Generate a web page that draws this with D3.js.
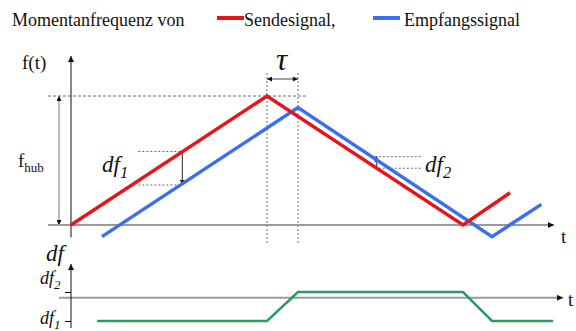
<!DOCTYPE html>
<html>
<head>
<meta charset="utf-8">
<script src="https://cdn.jsdelivr.net/npm/d3@7"></script>
<style>
  body { margin: 0; background: #fff; }
</style>
</head>
<body>
<div class="chart"></div>
<script>
// time in units of half a sweep, frequency in units of f_hub
var sendT = [0, 1, 2, 2.24]
var sendF = [0, 1, 0, 0.25]
var recvT = [0.158, 1.158, 2.148, 2.4]
var recvF = [-0.09, 0.91, -0.09, 0.16]

var diffT = [0.133, 1.0, 1.158, 2.0, 2.148, 2.46]
var diffF = [-1, -1, 0.25, 0.25, -1, -1]

var tau = [1, 1.158]
var df1Marker = { t: 0.568, f: [0.57, 0.31] }
var df2Marker = { t: 1.56, f: [0.53, 0.44] }

var legendNames = ["Sendesignal,", "Empfangssignal"]
var legendColors = ["#e8141c", "#3a6ff0"]

var width = 576, height = 331;
var serif = "Liberation Serif";

var x = d3.scaleLinear().domain([0, 1]).range([71, 267]);
var y = d3.scaleLinear().domain([0, 1]).range([225, 96]);
var y2 = d3.scaleLinear().domain([-1, 0.25]).range([321, 292]);

var svg = d3.select(".chart").append("svg")
    .attr("width", width)
    .attr("height", height);

function label(lx, ly, size, str) {
  return svg.append("text")
      .attr("x", lx).attr("y", ly)
      .attr("font-family", serif)
      .attr("font-size", size)
      .attr("fill", "#111")
      .text(str);
}

var defs = svg.append("defs");
function arrowMarker(id, w, h) {
  defs.append("marker")
      .attr("id", id)
      .attr("viewBox", "0 0 10 10")
      .attr("refX", 10).attr("refY", 5)
      .attr("markerUnits", "userSpaceOnUse")
      .attr("markerWidth", w).attr("markerHeight", h)
      .attr("orient", "auto-start-reverse")
    .append("path")
      .attr("d", "M0,0L10,5L0,10z")
      .attr("fill", "#111");
}
arrowMarker("arr", 7, 6);
arrowMarker("arrS", 6, 5);

// legend
label(12, 26, 18, "Momentanfrequenz von");
var legX = [217, 373];
legendNames.forEach(function(name, i) {
  svg.append("line")
      .attr("x1", legX[i]).attr("x2", legX[i] + 27)
      .attr("y1", 18).attr("y2", 18)
      .attr("stroke", legendColors[i]).attr("stroke-width", 4);
  label(legX[i] + (i ? 31 : 27), 26, 18, name);
});

// ----- upper chart -----
svg.append("line")
    .attr("x1", 48).attr("x2", x(1.2))
    .attr("y1", y(1)).attr("y2", y(1))
    .attr("stroke", "#444").attr("stroke-width", 0.8).attr("stroke-dasharray", "3,2");
tau.forEach(function(t) {
  svg.append("line")
      .attr("x1", x(t)).attr("x2", x(t))
      .attr("y1", 73).attr("y2", 243)
      .attr("stroke", "#444").attr("stroke-width", 0.8).attr("stroke-dasharray", "2,2");
});
svg.append("line")
    .attr("x1", x(tau[0])).attr("x2", x(tau[1]))
    .attr("y1", 79).attr("y2", 79)
    .attr("stroke", "#111").attr("stroke-width", 0.8)
    .attr("marker-start", "url(#arrS)").attr("marker-end", "url(#arrS)");
label((x(tau[0]) + x(tau[1])) / 2 - 1, 70, 31, "τ")
    .attr("text-anchor", "middle")
    .attr("font-style", "italic");

// f_hub arrow
svg.append("line")
    .attr("x1", 59).attr("x2", 59)
    .attr("y1", y(1)).attr("y2", y(0))
    .attr("stroke", "#555").attr("stroke-width", 0.8)
    .attr("marker-start", "url(#arrS)").attr("marker-end", "url(#arrS)");
var fhub = label(18, 167, 19, null);
fhub.append("tspan").text("f");
fhub.append("tspan").attr("dy", 5).attr("font-size", 13).text("hub");

// df markers
[df1Marker, df2Marker].forEach(function(m, i) {
  var x0 = i ? x(m.t) - 2 : x(m.t) - 44;
  var x1 = i ? x(m.t) + 44 : x(m.t);
  m.f.forEach(function(f) {
    svg.append("line")
        .attr("x1", x0).attr("x2", x1)
        .attr("y1", y(f)).attr("y2", y(f))
        .attr("stroke", "#444").attr("stroke-width", 0.8).attr("stroke-dasharray", "2,2");
  });
  svg.append("line")
      .attr("x1", x(m.t)).attr("x2", x(m.t))
      .attr("y1", y(i ? m.f[1] : m.f[0])).attr("y2", y(i ? m.f[0] : m.f[1]))
      .attr("stroke", "#111").attr("stroke-width", 0.9)
      .attr("marker-end", "url(#arrS)");
});
function dfLabel(lx, ly, size, sub) {
  var t = label(lx, ly, size, null).attr("font-style", "italic");
  t.append("tspan").text("df");
  t.append("tspan").attr("dy", size * 0.25).attr("font-size", size * 0.72).text(sub);
}
dfLabel(102, 172, 23, "1");
dfLabel(425, 172, 23, "2");

// axes upper
svg.append("line")
    .attr("x1", 48).attr("x2", 554)
    .attr("y1", y(0)).attr("y2", y(0))
    .attr("stroke", "#9a9a9a").attr("stroke-width", 2)
    .attr("marker-end", "url(#arr)");
svg.append("line")
    .attr("x1", x(0)).attr("x2", x(0))
    .attr("y1", y(-0.095)).attr("y2", 56)
    .attr("stroke", "#111").attr("stroke-width", 1)
    .attr("marker-end", "url(#arr)");
label(22, 69, 19, "f(t)");
label(561, 243, 19, "t");

// signals
var line = d3.line()
    .x(function(d) { return x(d[0]); })
    .y(function(d) { return y(d[1]); });
svg.append("path")
    .datum(d3.zip(recvT, recvF))
    .attr("d", line)
    .attr("fill", "none").attr("stroke", legendColors[1]).attr("stroke-width", 3.5);
svg.append("path")
    .datum(d3.zip(sendT, sendF))
    .attr("d", line)
    .attr("fill", "none").attr("stroke", legendColors[0]).attr("stroke-width", 3.5);

// ----- lower chart -----
svg.append("line")
    .attr("x1", 59).attr("x2", 563)
    .attr("y1", y2(0)).attr("y2", y2(0))
    .attr("stroke", "#9a9a9a").attr("stroke-width", 2)
    .attr("marker-end", "url(#arr)");
svg.append("line")
    .attr("x1", x(0)).attr("x2", x(0))
    .attr("y1", 328).attr("y2", 264)
    .attr("stroke", "#111").attr("stroke-width", 1)
    .attr("marker-end", "url(#arr)");
var yAxis = d3.axisLeft(y2).tickValues([-1, 0.25]).tickSize(6).tickFormat("");
svg.append("g")
    .attr("transform", "translate(" + x(0) + ",0)")
    .call(yAxis)
    .call(function(g) { g.select(".domain").remove(); });
label(46, 261, 23, "df").attr("font-style", "italic");
dfLabel(40, 284, 18, "2");
dfLabel(40, 324, 18, "1");
label(568, 306, 19, "t");

var line2 = d3.line()
    .x(function(d) { return x(d[0]); })
    .y(function(d) { return y2(d[1]); });
svg.append("path")
    .datum(d3.zip(diffT, diffF))
    .attr("d", line2)
    .attr("fill", "none").attr("stroke", "#2e9a62").attr("stroke-width", 2.5);
</script>
</body>
</html>
